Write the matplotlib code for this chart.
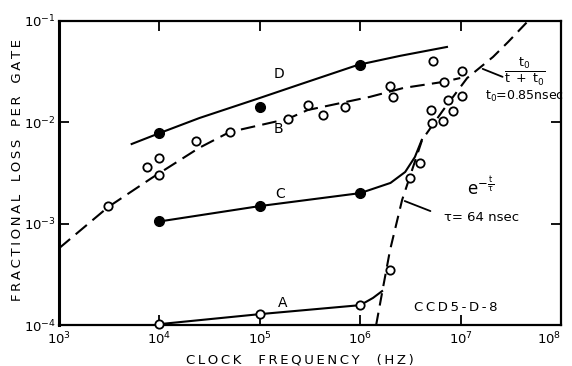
import matplotlib.pyplot as plt

plt.rcParams['font.family'] = 'DejaVu Sans'
plt.rcParams['mathtext.default'] = 'regular'

# curve D: filled points with a solid fitted line
d_freq = [1e4, 1e5, 1e6]
d_loss = [7.8e-3, 1.42e-2, 3.68e-2]
d_fit_freq = [5.3e3, 1e4, 2.5e4, 9.4e4, 2.5e5, 9.5e5, 2.5e6, 7.3e6]
d_fit_loss = [6.1e-3, 7.8e-3, 1.1e-2, 1.7e-2, 2.36e-2, 3.68e-2, 4.52e-2, 5.53e-2]

# curve B: open points with a dashed fitted line
b_freq = [3.1e3, 7.5e3, 1e4, 1e4, 2.3e4, 5.0e4, 1.9e5, 3.0e5, 4.3e5, 7.1e5,
          2.0e6, 2.1e6, 5.3e6, 6.8e6, 1.03e7, 1.03e7, 7.5e6, 5.1e6, 8.4e6,
          6.7e6, 5.2e6, 3.9e6, 3.1e6, 2.0e6]
b_loss = [1.49e-3, 3.6e-3, 4.45e-3, 3.0e-3, 6.5e-3, 8.0e-3, 1.08e-2, 1.48e-2,
          1.18e-2, 1.42e-2, 2.28e-2, 1.78e-2, 4.0e-2, 2.5e-2, 3.2e-2, 1.82e-2,
          1.66e-2, 1.32e-2, 1.29e-2, 1.03e-2, 9.9e-3, 4.0e-3, 2.8e-3, 3.5e-4]
b_fit_freq = [1e3, 3.1e3, 8.4e3, 2.5e4, 5.0e4, 1.9e5, 3.0e5, 1.25e6, 2.7e6, 6.7e6, 9.9e6]
b_fit_loss = [5.7e-4, 1.46e-3, 2.82e-3, 5.6e-3, 8.0e-3, 1.08e-2, 1.32e-2, 1.78e-2,
              2.18e-2, 2.5e-2, 2.73e-2]

# curve C: filled points, solid line bending up at high frequency
c_freq = [1e4, 1e5, 1e6]
c_loss = [1.05e-3, 1.49e-3, 2.0e-3]
c_fit_freq = [1e4, 1e5, 1e6, 2.0e6, 2.8e6, 3.5e6, 4.1e6]
c_fit_loss = [1.05e-3, 1.49e-3, 2.0e-3, 2.52e-3, 3.23e-3, 4.54e-3, 6.7e-3]

# curve A: open points, solid line
a_freq = [1e4, 1e5, 1e6]
a_loss = [1.02e-4, 1.28e-4, 1.57e-4]
a_fit_freq = [1e4, 1e5, 1e6, 1.34e6, 1.65e6]
a_fit_loss = [1.02e-4, 1.28e-4, 1.57e-4, 1.85e-4, 2.16e-4]

# limiting curve: exp(-t/tau) at low loss, t0/(t+t0) at high loss
lim_freq = [1.44e6, 1.69e6, 1.98e6, 2.61e6, 4.13e6, 6.7e6, 1.16e7, 2.1e7, 2.97e7, 4.7e7]
lim_loss = [1e-4, 2.37e-4, 5.48e-4, 1.71e-3, 6.7e-3, 1.32e-2, 2.73e-2, 4.41e-2, 6.2e-2, 1e-1]

xticks = [1e3, 1e4, 1e5, 1e6, 1e7, 1e8]
xtick_labels = [r'$10^{3}$', r'$10^{4}$', r'$10^{5}$', r'$10^{6}$', r'$10^{7}$', r'$10^{8}$']
yticks = [1e-4, 1e-3, 1e-2, 1e-1]
ytick_labels = [r'$10^{-4}$', r'$10^{-3}$', r'$10^{-2}$', r'$10^{-1}$']


def spaced(s):
    return '\u2009'.join(s)


fig = plt.figure(figsize=(5.72, 3.66), dpi=100)
ax = fig.add_axes([0.103, 0.112, 0.878, 0.831])
ax.set_xscale('log')
ax.set_yscale('log')

lw = 1.5
ax.plot(d_fit_freq, d_fit_loss, color='k', lw=lw, zorder=2)
ax.plot(b_fit_freq, b_fit_loss, color='k', lw=lw, dashes=(7, 3.5), zorder=2)
ax.plot(c_fit_freq, c_fit_loss, color='k', lw=lw, zorder=2)
ax.plot(a_fit_freq, a_fit_loss, color='k', lw=lw, zorder=2)
ax.plot(lim_freq, lim_loss, color='k', lw=lw, dashes=(6, 3.5), zorder=2)

ax.plot(d_freq, d_loss, 'o', color='k', ms=7, zorder=3)
ax.plot(c_freq, c_loss, 'o', color='k', ms=7, zorder=3)
ax.plot(b_freq, b_loss, 'o', mfc='white', mec='k', mew=1.3, ms=6, zorder=3, clip_on=False)
ax.plot(a_freq, a_loss, 'o', mfc='white', mec='k', mew=1.3, ms=6, zorder=3, clip_on=False)

# curve names
for name, x, y in [('D', 1.55e5, 3.0e-2), ('B', 1.55e5, 8.6e-3),
                   ('C', 1.6e5, 1.95e-3), ('A', 1.7e5, 1.64e-4)]:
    ax.text(x, y, name, fontsize=10, ha='center', va='center')

ax.text(9.0e6, 1.5e-4, spaced('CCD5-D-8'), fontsize=9.5, ha='center', va='center')
ax.text(1.56e7, 2.25e-3, r'$e^{-\frac{t}{\tau}}$', fontsize=12, ha='center', va='center')
ax.annotate('', xy=(2.61e6, 1.71e-3), xytext=(5.3e6, 1.30e-3),
            arrowprops=dict(arrowstyle='-', color='k', lw=1.3))
ax.text(6.8e6, 1.16e-3, '\u03c4= 64 nsec', fontsize=9.5, ha='left', va='center')
ax.annotate('', xy=(1.56e7, 3.44e-2), xytext=(2.77e7, 2.74e-2),
            arrowprops=dict(arrowstyle='-', color='k', lw=1.3))
ax.text(4.3e7, 3.14e-2, r'$\frac{t_0}{t\ +\ t_0}$', fontsize=13, ha='center', va='center')
ax.text(4.3e7, 1.78e-2, r'$t_0$=0.85nsec', fontsize=9, ha='center', va='center')

ax.set_xlim(1e3, 1e8)
ax.set_ylim(1e-4, 1e-1)
ax.set_xticks(xticks)
ax.set_xticklabels(xtick_labels)
ax.set_yticks(yticks)
ax.set_yticklabels(ytick_labels)
ax.minorticks_off()
ax.tick_params(direction='in', length=7, width=1.3, top=True, right=True,
               labelsize=9.5, pad=4)
ax.tick_params(axis='y', pad=2)
ax.get_xticklabels()[-1].set_ha('right')
for sp in ax.spines.values():
    sp.set_linewidth(1.6)
ax.spines['left'].set_linewidth(2.2)

fig.text(0.524, 0.017, spaced('CLOCK') + '    ' + spaced('FREQUENCY') + '    ' + spaced('(HZ)'),
         fontsize=9.5, ha='center', va='center')
fig.text(0.031, 0.535, spaced('FRACTIONAL') + '   ' + spaced('LOSS') + '   ' + spaced('PER') + '   ' + spaced('GATE'),
         fontsize=9.5, rotation=90, ha='center', va='center')

fig.savefig('out.png', dpi=100)
